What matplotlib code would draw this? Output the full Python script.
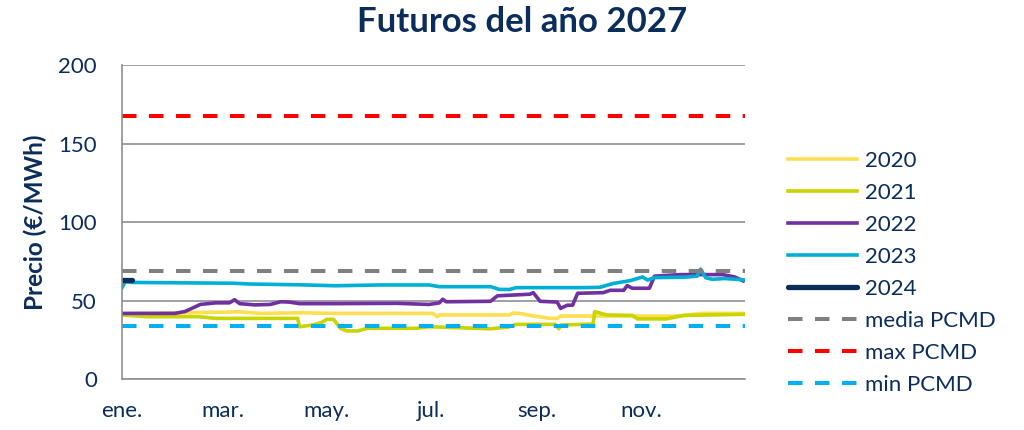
import matplotlib.pyplot as plt

plt.rcParams['font.family'] = ['Lato', 'DejaVu Sans']

NAVY = '#0B2D5B'
GRID = '#8E9099'

# day of year (0 = 1 ene.) and price (EUR/MWh)
days_2020 = [0, 22, 35, 55, 69, 81, 104, 125, 182, 185, 186, 227, 229, 233, 239, 251, 255, 257, 327, 339, 364]
vals_2020 = [41.4, 41.8, 42.2, 42.5, 42.8, 41.8, 42.2, 41.8, 41.8, 39.7, 40.8, 40.8, 42.0, 41.8, 40.5, 38.6, 38.6, 40.1, 40.1, 41.8, 41.8]

days_2021 = [0, 15, 45, 55, 103, 104, 112, 117, 120, 124, 128, 132, 138, 144, 173, 180, 216, 226, 231, 254, 256, 257, 276, 277, 284, 299, 302, 319, 329, 364]
vals_2021 = [40.8, 39.7, 39.7, 38.6, 38.6, 33.3, 34.4, 36.0, 38.0, 38.0, 32.3, 30.6, 30.6, 32.3, 32.3, 33.3, 32.0, 33.0, 34.8, 34.8, 32.0, 34.4, 35.0, 42.9, 40.8, 40.5, 38.3, 38.3, 40.5, 41.2]

days_2022 = [0, 31, 37, 46, 55, 63, 66, 69, 78, 87, 93, 98, 104, 125, 161, 180, 186, 188, 190, 216, 220, 239, 241, 245, 255, 257, 261, 264, 267, 282, 286, 294, 296, 299, 309, 312, 327, 352, 359, 364]
vals_2022 = [41.8, 41.8, 43.0, 47.5, 48.5, 48.5, 50.5, 48.0, 47.2, 47.5, 49.2, 49.0, 48.0, 48.0, 48.2, 47.5, 48.5, 50.8, 49.2, 49.5, 53.0, 54.0, 55.0, 49.5, 49.0, 45.0, 47.0, 47.0, 54.6, 55.0, 56.5, 56.5, 59.5, 57.8, 57.8, 65.5, 66.5, 66.5, 65.0, 62.5]

days_2023 = [0, 2, 6, 65, 75, 104, 125, 151, 180, 186, 216, 221, 227, 231, 270, 280, 288, 298, 305, 308, 312, 329, 337, 339, 342, 346, 353, 364]
vals_2023 = [58.0, 62.0, 61.5, 61.0, 60.5, 60.0, 59.4, 59.9, 59.9, 58.8, 58.8, 57.1, 57.0, 58.2, 58.2, 58.4, 60.9, 62.7, 65.0, 63.0, 64.6, 64.8, 65.5, 70.0, 64.5, 63.5, 64.0, 63.2]

days_2024 = [0, 6]
vals_2024 = [63.0, 63.0]

media_pcmd = 68.8
max_pcmd = 167.5
min_pcmd = 33.8

month_days = [0, 59, 120, 181, 243, 304]
month_labels = ['ene.', 'mar.', 'may.', 'jul.', 'sep.', 'nov.']

fig = plt.figure(figsize=(10.24, 4.3), dpi=100)
ax = fig.add_axes([0.119, 0.1186, 0.6085, 0.7302])

ax.plot(days_2020, vals_2020, color='#FFDF4F', lw=2.6, label='2020')
ax.plot(days_2021, vals_2021, color='#C9D400', lw=2.6, label='2021')
ax.plot(days_2022, vals_2022, color='#7030A0', lw=2.6, label='2022')
ax.plot(days_2023, vals_2023, color='#00B0D4', lw=2.6, label='2023')
ax.plot(days_2024, vals_2024, color='#0A2E5C', lw=3.8, solid_capstyle='round', label='2024')

dash = (3.6, 3.1)
ax.axhline(media_pcmd, color='#808080', lw=2.9, dashes=dash, label='media PCMD')
ax.axhline(max_pcmd, color='#FF0000', lw=2.9, dashes=dash, label='max PCMD')
ax.axhline(min_pcmd, color='#00B0F0', lw=2.9, dashes=dash, label='min PCMD')

ax.set_xlim(0, 365)
ax.set_ylim(0, 200)
ax.set_yticks([0, 50, 100, 150, 200])
ax.set_xticks(month_days)
ax.set_xticklabels(month_labels)
ax.grid(axis='y', color=GRID, lw=1.2)
ax.set_axisbelow(True)
for side in ['top', 'right']:
    ax.spines[side].set_visible(False)
for side in ['left', 'bottom']:
    ax.spines[side].set_color(GRID)
    ax.spines[side].set_linewidth(1.2)
ax.tick_params(axis='both', length=0, labelsize=16, labelcolor=NAVY)
ax.tick_params(axis='y', pad=18)
ax.tick_params(axis='x', pad=16)

ax.set_ylabel('Precio (€/MWh)', fontsize=17.5, fontweight='bold', color=NAVY, labelpad=8)
fig.suptitle('Futuros del año 2027', x=0.51, y=0.985, fontsize=25, fontweight='bold', color=NAVY)

leg = fig.legend(loc='center left', bbox_to_anchor=(0.75, 0.365), frameon=False,
                 fontsize=16, handlelength=3.1, handletextpad=0.35, labelspacing=0.54)
for t in leg.get_texts():
    t.set_color(NAVY)

fig.savefig('out.png', dpi=100)
